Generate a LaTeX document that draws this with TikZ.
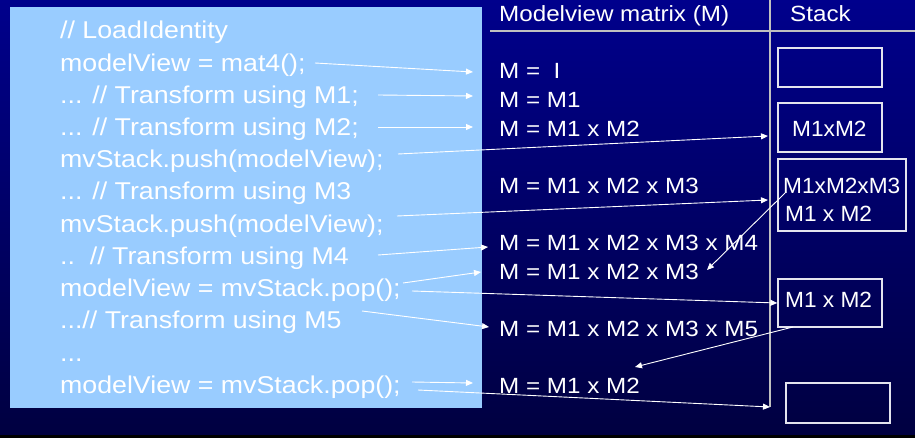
\documentclass[tikz,border=0pt]{standalone}
\usepackage{fontspec}
\setmainfont{Liberation Sans}[FakeStretch=1.1]
\usetikzlibrary{arrows.meta}
\definecolor{navytop}{HTML}{00008C}
\definecolor{navybot}{HTML}{000040}
\definecolor{codebg}{HTML}{99CCFF}
\definecolor{rulegray}{HTML}{C0C0C0}
\definecolor{boxline}{HTML}{E4E4EE}
\begin{document}
\begin{tikzpicture}[x=1pt,y=-1pt,
  code/.style={anchor=base west, inner sep=0pt, text=white, font=\fontsize{24.3}{29}\selectfont},
  mat/.style={anchor=base west, inner sep=0pt, text=white, font=\fontsize{22}{26}\selectfont},
  stacktext/.style={mat, font=\fontsize{22}{26}\selectfont\addfontfeatures{FakeStretch=1.03}},
  stackbox/.style={draw=boxline, line width=1.4pt, rectangle, inner sep=0pt},
  flow/.style={draw=white, line width=0.9pt, -{Triangle[length=7pt,width=6pt]}},
  rulel/.style={draw=rulegray, line width=1.6pt}]
\useasboundingbox (0,0) rectangle (915,438);

% slide background
\shade[top color=navytop, bottom color=navybot] (0,0) rectangle (915,438);
\fill[black] (0,435) rectangle (915,438);

% code panel
\fill[codebg] (10,7) rectangle (482,408);

% table rules
\coordinate (hl) at (490,31);
\coordinate (hr) at (915,31);
\coordinate (vt) at (770,0);
\coordinate (vb) at (770,407);
\draw[rulel] (hl) -- (hr);
\draw[rulel] (vt) -- (vb);

% code lines
\node[code] (c0)  at (60,39.0)  {// LoadIdentity};
\node[code] (c1)  at (60,71.2)  {modelView = mat4();};
\node[code] (c2)  at (60,103.4) {... // Transform using M1;};
\node[code] (c3)  at (60,135.6) {... // Transform using M2;};
\node[code] (c4)  at (60,167.8) {mvStack.push(modelView);};
\node[code] (c5)  at (60,200.0) {... // Transform using M3};
\node[code] (c6)  at (60,232.2) {mvStack.push(modelView);};
\node[code] (c7)  at (60,264.4) {..\ \ // Transform using M4};
\node[code] (c8)  at (60,296.6) {modelView = mvStack.pop();};
\node[code] (c9)  at (60,328.8) {...// Transform using M5};
\node[code] (c10) at (60,361.0) {...};
\node[code] (c11) at (60,393.2) {modelView = mvStack.pop();};

% headers
\node[mat] (hm) at (499,21.8) {Modelview matrix (M)};
\node[mat] (hs) at (790,21.8) {Stack};

% modelview matrix column
\node[mat] (m2)  at (499,79.0)  {M =\ \ I};
\node[mat] (m3)  at (499,107.6) {M = M1};
\node[mat] (m4)  at (499,136.2) {M = M1 x M2};
\node[mat] (m6)  at (499,193.4) {M = M1 x M2 x M3};
\node[mat] (m8)  at (499,250.6) {M = M1 x M2 x M3 x M4};
\node[mat] (m9)  at (499,279.2) {M = M1 x M2 x M3};
\node[mat] (m11) at (499,336.4) {M = M1 x M2 x M3 x M5};
\node[mat] (m13) at (499,393.6) {M = M1 x M2};

% stack column
\node[stackbox, minimum width=104pt, minimum height=39pt] (s1) at (830,67.5) {};
\node[stackbox, minimum width=104pt, minimum height=49pt] (s2) at (830,127.5) {};
\node[stackbox, minimum width=128pt, minimum height=72pt] (s3) at (842,195) {};
\node[stackbox, minimum width=104pt, minimum height=48pt] (s4) at (830,303) {};
\node[stackbox, minimum width=104pt, minimum height=40pt] (s5) at (838,403) {};
\node[stacktext] (t2)  at (792,136.2) {M1xM2};
\node[stacktext] (t3a) at (783,193.4) {M1xM2xM3};
\node[stacktext] (t3b) at (785,222.0) {M1 x M2};
\node[stacktext] (t4)  at (785,307.8) {M1 x M2};

% connector ends
\coordinate (a1s) at (315,63);   \coordinate (a1e) at (473,72);
\coordinate (a2s) at (378,95);   \coordinate (a2e) at (473,96);
\coordinate (a3s) at (378,127);  \coordinate (a3e) at (473,127);
\coordinate (a4s) at (398,154);  \coordinate (a4e) at (768,136);
\coordinate (a5s) at (397,216);  \coordinate (a5e) at (768,200);
\coordinate (a6s) at (378,255);  \coordinate (a6e) at (488,247);
\coordinate (a7s) at (403,283);  \coordinate (a7e) at (481,272);
\coordinate (a8s) at (412,291);
\coordinate (a9s) at (362,311);  \coordinate (a9e) at (489,327);
\coordinate (a10s) at (412,382); \coordinate (a10e) at (473,383);
\coordinate (a11s) at (418,390);
\coordinate (a12s) at (785,193); \coordinate (a12e) at (707,270);
\coordinate (a13s) at (793,327); \coordinate (a13e) at (635,367);

% flow of the modelview matrix and the stack
\draw[flow] (a1s) -- (a1e);
\draw[flow] (a2s) -- (a2e);
\draw[flow] (a3s) -- (a3e);
\draw[flow] (a4s) -- (a4e);
\draw[flow] (a5s) -- (a5e);
\draw[flow] (a6s) -- (a6e);
\draw[flow] (a7s) -- (a7e);
\draw[flow] (a8s) -- (s4.west);
\draw[flow] (a9s) -- (a9e);
\draw[flow] (a10s) -- (a10e);
\draw[flow] (a11s) -- (vb);
\draw[flow] (a12s) -- (a12e);
\draw[flow] (a13s) -- (a13e);
\end{tikzpicture}
\end{document}
